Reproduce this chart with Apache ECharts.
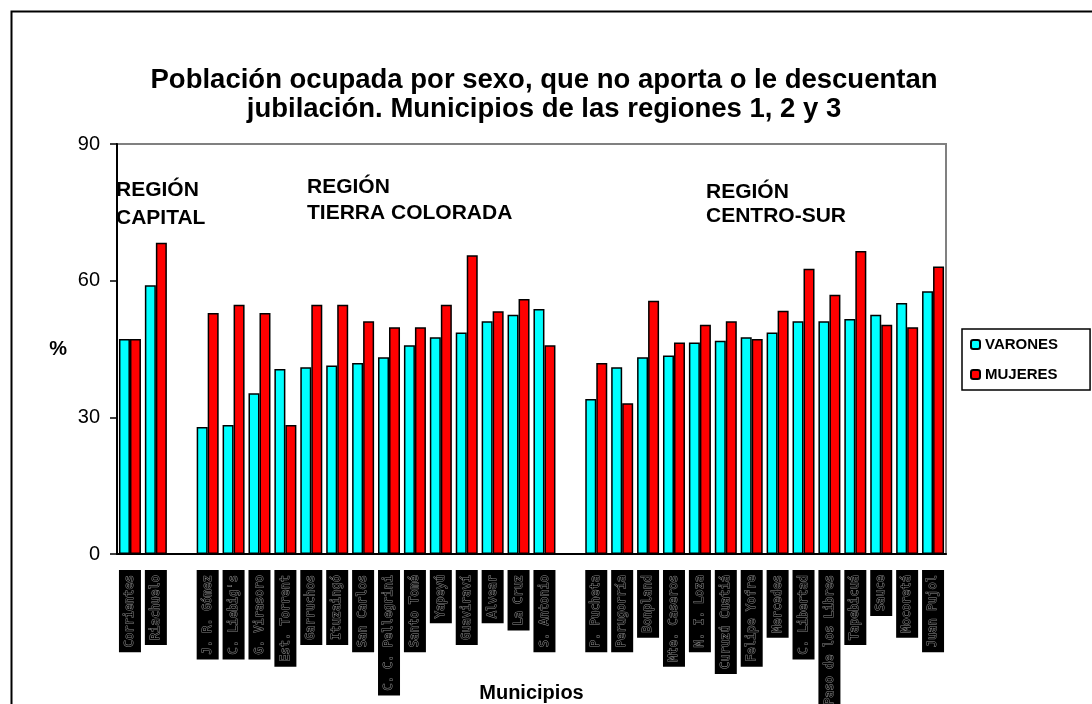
<!DOCTYPE html>
<html>
<head>
<meta charset="utf-8">
<style>
  html, body { margin: 0; padding: 0; background: #fff; }
  #chart { width: 1092px; height: 704px; }
</style>
<script src="https://cdn.jsdelivr.net/npm/echarts@6/dist/echarts.min.js"></script>
</head>
<body>
<div id="chart"></div>
<script>
// municipios, agrupados por región (las entradas vacías son el espacio entre regiones)
const municipios = [
  'Corrientes', 'Riachuelo', ' ',
  'J. R. Gómez', "C. Liebig's", 'G. Virasoro', 'Est. Torrent', 'Garruchos', 'Ituzaingó',
  'San Carlos', 'C. C. Pellegrini', 'Santo Tomé', 'Yapeyú', 'Guaviraví', 'Alvear',
  'La Cruz', 'S. Antonio', '  ',
  'P. Pucheta', 'Perugorría', 'Bonpland', 'Mte. Caseros', 'M. I. Loza', 'Curuzú Cuatiá',
  'Felipe Yofre', 'Mercedes', 'C. Libertad', 'Paso de los Libres', 'Tapebicuá', 'Sauce',
  'Mocoretá', 'Juan Pujol'
];
const varones = [
  47.2, 59.0, null,
  27.9, 28.3, 35.3, 40.6, 41.0, 41.4, 41.9, 43.2, 45.8, 47.6, 48.6, 51.1, 52.5, 53.8, null,
  34.0, 41.0, 43.2, 43.6, 46.4, 46.8, 47.6, 48.6, 51.1, 51.1, 51.6, 52.5, 55.1, 57.7
];
const mujeres = [
  47.2, 68.3, null,
  52.9, 54.7, 52.9, 28.3, 54.7, 54.7, 51.1, 49.8, 49.8, 54.7, 65.6, 53.3, 56.0, 45.8, null,
  41.9, 33.1, 55.6, 46.4, 50.3, 51.1, 47.2, 53.4, 62.6, 56.9, 66.5, 50.3, 49.8, 63.1
];
const yTicks = [0, 30, 60, 90];

const FONT = '"Liberation Sans", Arial, sans-serif';

const chart = echarts.init(document.getElementById('chart'));

chart.setOption({
  animation: false,
  backgroundColor: '#fff',
  title: {
    text: 'Población ocupada por sexo, que no aporta o le descuentan\njubilación. Municipios de las regiones 1, 2 y 3',
    left: 539,
    top: 61,
    textAlign: 'center',
    textStyle: { fontFamily: FONT, fontSize: 27.5, fontWeight: 'bold', color: '#000', lineHeight: 29 }
  },
  legend: {
    orient: 'vertical',
    left: 962,
    top: 329,
    padding: [8, 32, 8, 8],
    itemWidth: 9,
    itemHeight: 9,
    itemGap: 15,
    borderColor: '#000',
    borderWidth: 1.5,
    textStyle: { fontFamily: FONT, fontSize: 15, fontWeight: 'bold', color: '#000' },
    data: ['VARONES', 'MUJERES']
  },
  grid: {
    left: 117, right: 146, top: 144, bottom: 150,
    outerBoundsMode: 'none',
    show: true, borderColor: '#808080', borderWidth: 2, backgroundColor: '#fff'
  },
  xAxis: {
    type: 'category',
    data: municipios,
    name: 'Municipios',
    nameLocation: 'middle',
    nameGap: 129,
    nameMoveOverlap: false,
    nameTextStyle: { fontFamily: FONT, fontSize: 20, fontWeight: 'bold', color: '#000' },
    axisLine: { lineStyle: { color: '#000', width: 2 } },
    axisTick: { length: 7, lineStyle: { color: '#000', width: 1.5 } },
    axisLabel: {
      rotate: 90,
      margin: 16,
      interval: (i, v) => v.trim() !== '',
      fontFamily: '"DejaVu Sans Mono", monospace',
      fontSize: 12,
      color: '#000',
      textBorderColor: '#8a8a8a',
      textBorderWidth: 1,
      backgroundColor: '#000',
      padding: [5, 5, 5, 5]
    }
  },
  yAxis: {
    type: 'value',
    min: 0, max: 90, interval: 30,
    name: '%',
    nameLocation: 'middle',
    nameRotate: 0,
    nameGap: 50,
    nameTextStyle: { fontFamily: FONT, fontSize: 20, fontWeight: 'bold', color: '#000' },
    axisLine: { show: true, lineStyle: { color: '#000', width: 2 } },
    axisTick: { show: true, length: 7, lineStyle: { color: '#000', width: 1.5 } },
    splitLine: { show: false },
    axisLabel: {
      margin: 17,
      fontFamily: FONT, fontSize: 20, color: '#000',
      formatter: v => (yTicks.includes(v) ? String(v) : '')
    }
  },
  series: [
    {
      name: 'VARONES', type: 'bar', data: varones,
      barWidth: 11, barGap: '0%',
      itemStyle: { color: '#00FFFF', borderColor: '#000', borderWidth: 1.5 }
    },
    {
      name: 'MUJERES', type: 'bar', data: mujeres,
      barWidth: 11, barGap: '0%',
      itemStyle: { color: '#FF0000', borderColor: '#000', borderWidth: 1.5 }
    }
  ],
  graphic: [
    // marco exterior del gráfico
    { type: 'rect', left: 9, top: 9, shape: { width: 1200, height: 800 },
      style: { fill: 'none', stroke: '#000', lineWidth: 2 }, silent: true },
    { type: 'text', left: 116, top: 176,
      style: { text: 'REGIÓN\nCAPITAL', font: 'bold 21px ' + FONT, fill: '#000', lineHeight: 28 } },
    { type: 'text', left: 307, top: 174,
      style: { text: 'REGIÓN\nTIERRA COLORADA', font: 'bold 21px ' + FONT, fill: '#000', lineHeight: 26 } },
    { type: 'text', left: 706, top: 180,
      style: { text: 'REGIÓN\nCENTRO-SUR', font: 'bold 21px ' + FONT, fill: '#000', lineHeight: 24, align: 'center', x: 72 } }
  ]
});
</script>
</body>
</html>
